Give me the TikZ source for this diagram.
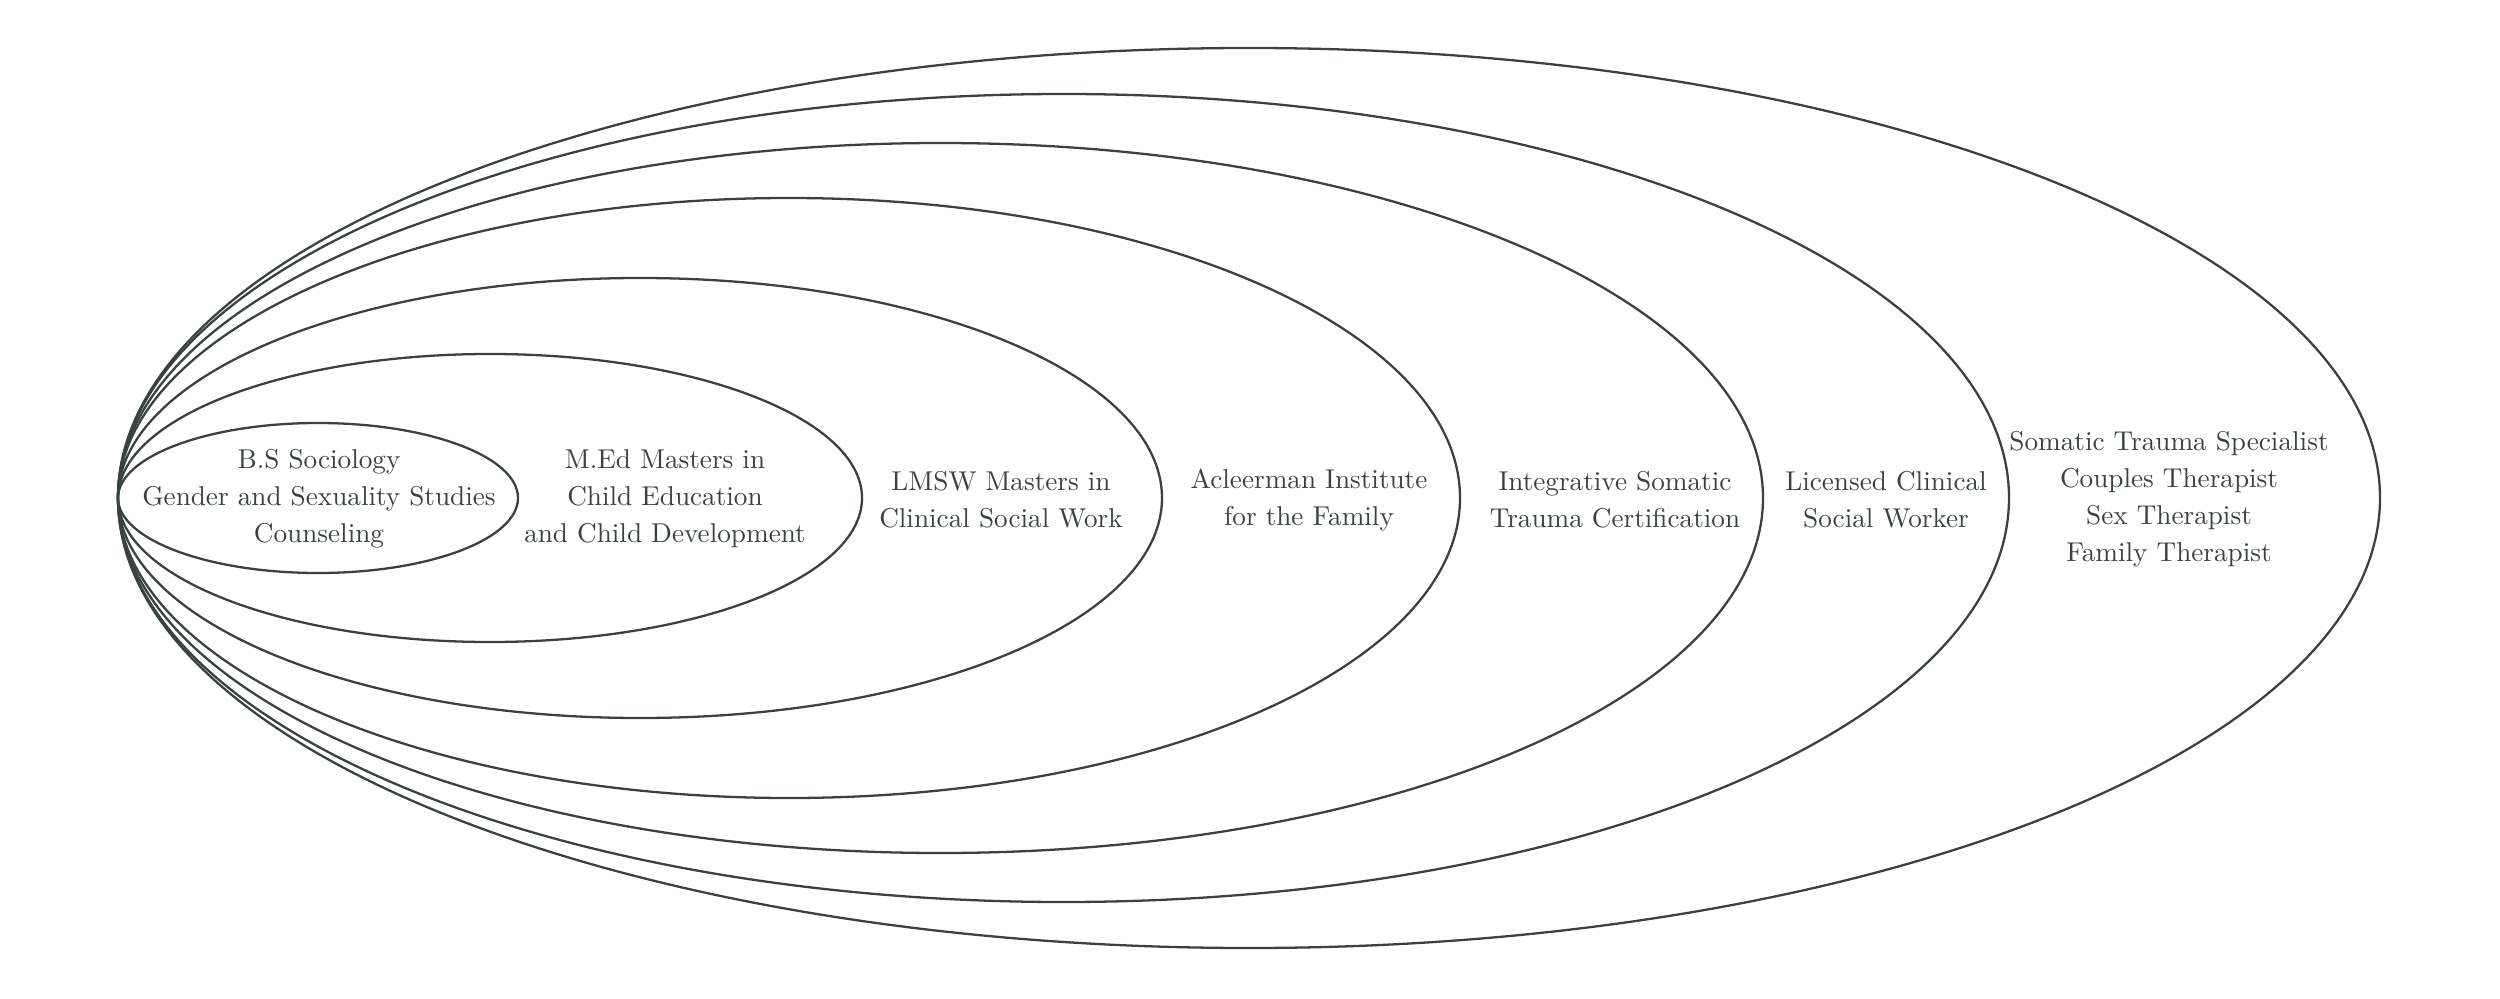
\documentclass[tikz,border=0pt]{standalone}
\definecolor{inkgreen}{HTML}{3A423D}
\tikzset{
    ring/.style={draw=inkgreen, line width=0.65pt},
    stage/.style={text=inkgreen, align=center, inner sep=0pt,
        scale=0.774, transform shape,
        font=\fontsize{10}{13.6}\selectfont}
}
\begin{document}
\begin{tikzpicture}
    \useasboundingbox (0,0) rectangle (25,9.98);
    % nested rings, all touching at the left point (1.18,5)
    \foreach \r/\h in {5.18/0.75, 8.62/1.44, 11.62/2.20, 14.60/3.00, 17.63/3.55, 20.09/4.04, 23.80/4.50}{
        \draw[ring] ({(1.18+\r)/2},5) ellipse ({(\r-1.18)/2} and \h);
    }
    \node[stage] (bs) at (3.19,4.99) {B.S Sociology\\Gender and Sexuality Studies\\Counseling};
    \node[stage] (med) at (6.65,4.99) {M.Ed Masters in\\Child Education\\and Child Development};
    \node[stage] (lmsw) at (10.01,4.98) {LMSW Masters in\\Clinical Social Work};
    \node[stage] (ackerman) at (13.09,4.98) {Acleerman Institute\\for the Family};
    \node[stage] (somatic) at (16.15,4.98) {Integrative Somatic\\Trauma Certification};
    \node[stage] (lcsw) at (18.86,4.98) {Licensed Clinical\\Social Worker};
    \node[stage] (roles) at (21.69,4.99) {Somatic Trauma Specialist\\Couples Therapist\\Sex Therapist\\Family Therapist};
\end{tikzpicture}
\end{document}
